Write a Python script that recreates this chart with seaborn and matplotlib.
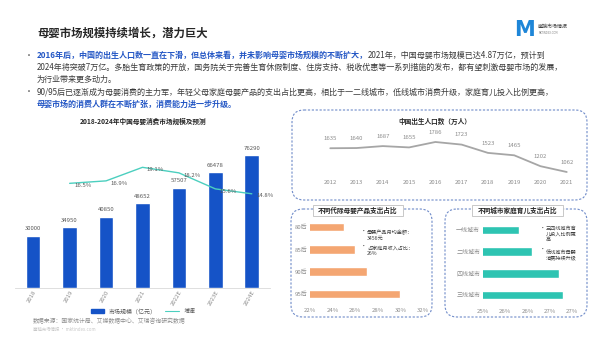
import numpy as np
import pandas as pd
import seaborn as sns
import matplotlib.pyplot as plt
from matplotlib.patches import FancyBboxPatch, Patch
from matplotlib.lines import Line2D

# ---- dados ----
anos_mercado = ["2018", "2019", "2020", "2021", "2022E", "2023E", "2024E"]
mercado = [30000, 34950, 40850, 48652, 57507, 66478, 76290]
anos_cresc = ["2019", "2020", "2021", "2022E", "2023E", "2024E"]
crescimento = [16.5, 16.9, 19.1, 18.2, 15.6, 14.8]

anos_nasc = [2012, 2013, 2014, 2015, 2016, 2017, 2018, 2019, 2020, 2021]
nascimentos = [1635, 1640, 1687, 1655, 1786, 1723, 1523, 1465, 1202, 1062]

geracoes = ["80后", "85后", "90后", "95后"]
gasto_geracao = [25, 26, 27, 30]
ticks_geracao = [22, 24, 26, 28, 30, 32]

cidades = ["一线城市", "二线城市", "四线城市", "三线城市"]
gasto_cidade = [25.8, 26.1, 26.7, 26.8]
ticks_cidade = [25, 25.5, 26, 26.5, 27]
ticks_cidade_txt = ["25%", "26%", "26%", "27%", "27%"]

sns.set_style("white")
plt.rcParams["font.family"] = ["Noto Sans CJK SC", "DejaVu Sans"]

W, H = 600, 357
fig = plt.figure(figsize=(6, 3.57), dpi=100)
bg = fig.add_axes([0, 0, 1, 1])
bg.set_xlim(0, W)
bg.set_ylim(H, 0)
bg.axis("off")


def px_axes(x0, y0, x1, y1):
  a = fig.add_axes([x0 / W, 1 - y1 / H, (x1 - x0) / W, (y1 - y0) / H])
  a.patch.set_alpha(0)
  return a


def caixa(x0, y0, x1, y1):
  bg.add_patch(FancyBboxPatch((x0, y0), x1 - x0, y1 - y0,
                              boxstyle="round,pad=0,rounding_size=12",
                              fill=False, ec="#6f8bc9", lw=0.8, ls=(0, (2, 1.5))))


def titulo_caixa(x0, y0, x1, y1, texto):
  bg.add_patch(FancyBboxPatch((x0, y0), x1 - x0, y1 - y0, boxstyle="square,pad=0",
                              fc="white", ec="#bfbfbf", lw=0.6, zorder=3))
  bg.text((x0 + x1) / 2, (y0 + y1) / 2, texto, ha="center", va="center",
          fontsize=4.8, fontweight="bold", color="#262626", zorder=4)


AZUL_TXT = "#2457c5"
ESCURO = "#3a3a3a"
renderer = fig.canvas.get_renderer()


def linha_rica(x, y, partes):
  for texto, cor, peso in partes:
    t = bg.text(x, y, texto, fontsize=5.8, color=cor, fontweight=peso, va="center")
    x += t.get_window_extent(renderer).width


# titulo e logo
bg.text(37, 33, "母婴市场规模持续增长，潜力巨大", fontsize=8.2, fontweight="bold",
        color="#262626", va="center")
bg.text(524, 30, "M", fontsize=15, fontweight="bold", color="#1e86d8", ha="center",
        va="center", family="DejaVu Sans")
bg.text(538, 26, "魔镜市场情报", fontsize=3.6, color="#404040", va="center")
bg.text(539, 33, "MKTINDEX.COM", fontsize=1.8, color="#808080", va="center",
        family="DejaVu Sans")

# texto corrido
for yb in (55, 92):
  bg.text(25, yb, "•", fontsize=5.8, color="#595959", va="center")
linha_rica(37, 55, [("2016年后，中国的出生人口数一直在下滑，但总体来看，并未影响母婴市场规模的不断扩大，", AZUL_TXT, "bold"),
                    ("2021年，中国母婴市场规模已达4.87万亿，预计到", ESCURO, "normal")])
linha_rica(37, 67.5, [("2024年将突破7万亿。多胎生育政策的开放，国务院关于完善生育休假制度、住房支持、税收优惠等一系列措施的发布，都有望刺激母婴市场的发展，", ESCURO, "normal")])
linha_rica(37, 79, [("为行业带来更多动力。", ESCURO, "normal")])
linha_rica(37, 92, [("90/95后已逐渐成为母婴消费的主力军，年轻父母家庭母婴产品的支出占比更高，相比于一二线城市，低线城市消费升级，家庭育儿投入比例更高，", ESCURO, "normal")])
linha_rica(37, 104, [("母婴市场的消费人群在不断扩张，消费能力进一步升级。", AZUL_TXT, "bold")])

# ---- grafico esquerdo: barras + crescimento ----
bg.text(143, 121, "2018-2024年中国母婴消费市场规模及预测", fontsize=4.8, fontweight="bold",
        color="#262626", ha="center", va="center")
ax = px_axes(15, 131, 270, 288)
df_m = pd.DataFrame({"ano": anos_mercado, "valor": mercado})
sns.barplot(data=df_m, x="ano", y="valor", color="#1553c7", width=0.4, ax=ax,
            saturation=1)
ax.set_ylim(0, 90000)
ax.set_xlim(-0.5, 6.5)
for i, v in enumerate(mercado):
  ax.text(i, v + 2500, str(v), ha="center", va="bottom", fontsize=4.3, color="#595959")
ax.set_yticks([])
ax.set_xlabel("")
ax.set_ylabel("")
for s in ("top", "right", "left"):
  ax.spines[s].set_visible(False)
ax.spines["bottom"].set_color("#d9d9d9")
ax.spines["bottom"].set_linewidth(0.6)
ax.tick_params(axis="x", length=0, pad=1, labelsize=4.3, labelcolor="#8c8c8c")
for lb in ax.get_xticklabels():
  lb.set_rotation(60)
  lb.set_ha("right")
  lb.set_rotation_mode("anchor")

ax2 = ax.twinx()
ax2.patch.set_alpha(0)
pos_cresc = [anos_mercado.index(a) for a in anos_cresc]
sns.lineplot(x=pos_cresc, y=crescimento, color="#4ccfbf", lw=1, ax=ax2)
ax2.set_ylim(-0.5, 25)
ax2.set_xlim(-0.5, 6.5)
ax2.set_yticks([])
ax2.axis("off")
for p, v in zip(pos_cresc, crescimento):
  ax2.text(p + 0.12, v - 0.35, f"{v}%", fontsize=4.3, color="#595959", va="center")

fig.legend(handles=[Patch(color="#1553c7", label="市场规模（亿元）"),
                    Line2D([0], [0], color="#4ccfbf", lw=0.8, label="增速")],
           loc="center", bbox_to_anchor=(143 / W, 1 - 311 / H), ncol=2, frameon=False,
           fontsize=4.3, handlelength=2.2, handleheight=0.5, columnspacing=1.5,
           labelcolor="#595959")
bg.text(33, 321, "数据来源：国家统计局、艾媒数据中心、艾瑞咨询研究数据", fontsize=4.2,
        color="#8c8c8c", va="center")
bg.text(33, 329, "魔镜市场情报 · mktindex.com", fontsize=3.2, color="#c8c8c8", va="center")

# ---- nascimentos ----
caixa(292, 110, 587, 200)
bg.text(435, 121, "中国出生人口数（万人）", fontsize=4.8, fontweight="bold",
        color="#262626", ha="center", va="center")
axn = px_axes(304, 125, 593, 178)
sns.lineplot(x=anos_nasc, y=nascimentos, color="#a6a6a6", lw=1.3, ax=axn)
axn.set_xlim(2011, 2022)
axn.set_ylim(917, 2196)
axn.set_xticks(anos_nasc)
axn.set_yticks([])
axn.tick_params(axis="x", length=0, pad=1.5, labelsize=4.3, labelcolor="#8c8c8c")
sns.despine(ax=axn, left=True, bottom=True)
for a, v in zip(anos_nasc, nascimentos):
  axn.annotate(str(v), (a, v), xytext=(0, 7), textcoords="offset points",
               ha="center", va="center", fontsize=4.3, color="#8c8c8c")

# ---- geracoes ----
caixa(291, 209, 432, 317)
titulo_caixa(313, 205, 403, 216, "不同代际母婴产品支出占比")
axg = px_axes(310, 216, 423, 305)
sns.barplot(x=gasto_geracao, y=geracoes, orient="h", color="#f4a672", width=0.38,
            ax=axg, saturation=1)
axg.set_xlim(22, 32)
axg.set_ylim(3.5, -0.5)
axg.set_xticks(ticks_geracao)
axg.set_xticklabels([f"{t}%" for t in ticks_geracao])
axg.tick_params(length=0, labelsize=4.3, labelcolor="#8c8c8c", pad=2)
sns.despine(ax=axg, left=True, bottom=True)
axg.set_xlabel("")
axg.set_ylabel("")
for yb, txt in ((234, "母婴产品月均金额：\n3456元"), (249, "占家庭月收入占比：\n26%")):
  bg.text(361, yb - 2, "•", fontsize=4, color="#404040", va="center")
  bg.text(367, yb + 1.5, txt, fontsize=3.7, color="#404040", va="center", linespacing=1.1)

# ---- cidades ----
caixa(445, 209, 587, 317)
titulo_caixa(472, 205, 563, 216, "不同城市家庭育儿支出占比")
axc = px_axes(483, 219, 576.5, 306)
sns.barplot(x=gasto_cidade, y=cidades, orient="h", color="#2ec4b2", width=0.38,
            ax=axc, saturation=1)
axc.set_xlim(25, 27.1)
axc.set_ylim(3.5, -0.5)
axc.set_xticks(ticks_cidade)
axc.set_xticklabels(ticks_cidade_txt)
axc.tick_params(length=0, labelsize=4.3, labelcolor="#8c8c8c", pad=2)
sns.despine(ax=axc, left=True, bottom=True)
axc.set_xlabel("")
axc.set_ylabel("")
for yb, txt in ((234, "三四线城市育\n儿投入比例更\n高"), (255, "低线城市母婴\n消费持续升级")):
  bg.text(540, yb - 5, "•", fontsize=4, color="#404040", va="center")
  bg.text(546, yb, txt, fontsize=3.7, color="#404040", va="center", linespacing=1.1)

fig.savefig("out.png", dpi=100)
